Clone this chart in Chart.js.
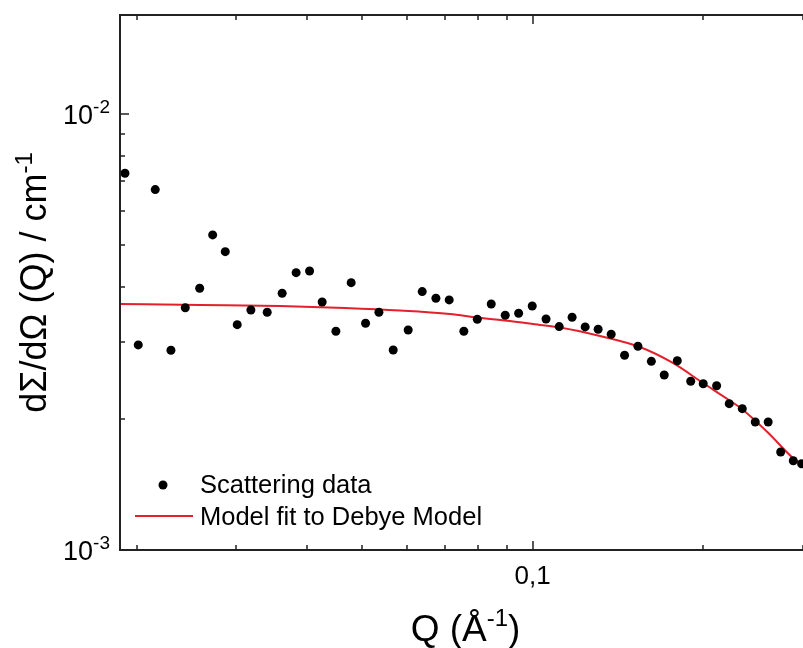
<!DOCTYPE html>
<html>
<head>
<meta charset="utf-8">
<script src="https://cdn.jsdelivr.net/npm/chart.js@4/dist/chart.umd.min.js"></script>
<style>
  html, body { margin: 0; padding: 0; background: #fff; overflow: hidden; }
  canvas { display: block; }
</style>
</head>
<body>
<canvas id="chart" width="803" height="648"></canvas>
<script>
// Scattering data (Q in 1/A, intensity in 1/cm)
const qValues = [
  0.01908, 0.02014, 0.02158, 0.02300, 0.02438, 0.02585, 0.02725, 0.02868, 0.03011, 0.03183,
  0.03401, 0.03614, 0.03825, 0.04040, 0.04252, 0.04496, 0.04784, 0.05072, 0.05355, 0.05675,
  0.06031, 0.06385, 0.06750, 0.07124, 0.07562, 0.07986, 0.08452, 0.08946, 0.09447, 0.09984,
  0.1056, 0.1114, 0.1174, 0.1238, 0.1305, 0.1376, 0.1453, 0.1534, 0.1620, 0.1707,
  0.1800, 0.1901, 0.2000, 0.2112, 0.2223, 0.2344, 0.2471, 0.2604, 0.2740, 0.2884, 0.2983
];
const intensity = [
  0.00731, 0.002953, 0.006706, 0.002871, 0.003594, 0.003983, 0.005280, 0.004833, 0.003287, 0.003552,
  0.003509, 0.003880, 0.004325, 0.004364, 0.003705, 0.003174, 0.004102, 0.003311, 0.003509, 0.002875,
  0.003196, 0.003913, 0.003779, 0.003745, 0.003174, 0.003381, 0.003666, 0.003454, 0.003491, 0.003627,
  0.003387, 0.003253, 0.003418, 0.003248, 0.003208, 0.003124, 0.002796, 0.002932, 0.002708, 0.002519,
  0.002717, 0.002437, 0.002406, 0.002381, 0.002166, 0.002109, 0.001966, 0.001966, 0.001678, 0.001602, 0.001577
];

// Debye model fit
const fitQ = [0.01869, 0.02588, 0.03581, 0.04664, 0.05832, 0.07145, 0.07976, 0.0912, 0.1030, 0.1117,
  0.1315, 0.1546, 0.1768, 0.1998, 0.2220, 0.2340, 0.2601, 0.2879, 0.2999];
const fitI = [0.003666, 0.003647, 0.003627, 0.003589, 0.003542, 0.003477, 0.003414, 0.003351, 0.003281, 0.003238,
  0.003096, 0.002921, 0.002685, 0.002415, 0.002208, 0.002106, 0.001860, 0.001626, 0.001562];

// Axis ticks
const xTicks = [0.02, 0.03, 0.04, 0.05, 0.06, 0.07, 0.08, 0.09, 0.1, 0.2, 0.3];
const xMajor = [0.1];
const xTickLabels = ['0,1'];
const yTicks = [0.001, 0.002, 0.003, 0.004, 0.005, 0.006, 0.007, 0.008, 0.009, 0.01];
const yMajor = [0.001, 0.01];
const yTickExp = ['-3', '-2'];

const seriesNames = ['Scattering data', 'Model fit to Debye Model'];

const FONT = '"Liberation Sans", Arial, sans-serif';
const AXIS = '#222';
const RED = '#e3202b';

// text with superscripts: parts = [[text, size, raise], ...]
function drawParts(ctx, parts, x, y, align) {
  let total = 0;
  parts.forEach(p => { ctx.font = p[1] + 'px ' + FONT; total += ctx.measureText(p[0]).width; });
  let cx = align === 'right' ? x - total : align === 'center' ? x - total / 2 : x;
  ctx.textAlign = 'left';
  ctx.textBaseline = 'alphabetic';
  parts.forEach(p => {
    ctx.font = p[1] + 'px ' + FONT;
    ctx.fillText(p[0], cx, y - p[2]);
    cx += ctx.measureText(p[0]).width;
  });
}

const framePlugin = {
  id: 'frame',
  afterDraw(chart) {
    const { ctx, chartArea: a, scales } = chart;
    const x = scales.x, y = scales.y;
    ctx.save();

    // frame (right side runs off the picture)
    ctx.strokeStyle = AXIS;
    ctx.lineWidth = 2;
    ctx.beginPath();
    ctx.moveTo(a.right + 2, a.top);
    ctx.lineTo(a.left, a.top);
    ctx.lineTo(a.left, a.bottom);
    ctx.lineTo(a.right + 2, a.bottom);
    ctx.stroke();

    // inward ticks
    ctx.lineWidth = 1.5;
    ctx.beginPath();
    xTicks.forEach(v => {
      const px = Math.round(x.getPixelForValue(v));
      const len = xMajor.includes(v) ? 9 : 5;
      ctx.moveTo(px, a.bottom); ctx.lineTo(px, a.bottom - len);
      ctx.moveTo(px, a.top); ctx.lineTo(px, a.top + len);
    });
    yTicks.forEach(v => {
      const py = Math.round(y.getPixelForValue(v));
      const len = yMajor.includes(v) ? 9 : 5;
      ctx.moveTo(a.left, py); ctx.lineTo(a.left + len, py);
    });
    ctx.stroke();

    ctx.fillStyle = '#000';
    // x tick labels
    xMajor.forEach((v, i) => {
      ctx.font = '26px ' + FONT;
      ctx.textAlign = 'center';
      ctx.textBaseline = 'alphabetic';
      ctx.fillText(xTickLabels[i], x.getPixelForValue(v), a.bottom + 34);
    });
    // y tick labels
    yMajor.forEach((v, i) => {
      const py = y.getPixelForValue(v);
      drawParts(ctx, [['10', 27, 0], [yTickExp[i], 19, 11]], a.left - 10, py + 10, 'right');
    });

    // axis titles
    drawParts(ctx, [['Q (Å', 37, 0], ['-1', 24, 15], [')', 37, 0]], (a.left + a.right) / 2 + 4, 641, 'center');
    ctx.save();
    ctx.translate(46, (a.top + a.bottom) / 2);
    ctx.rotate(-Math.PI / 2);
    drawParts(ctx, [['dΣ/dΩ (Q) / cm', 36, 0], ['-1', 24, 14]], 0, 0, 'center');
    ctx.restore();

    // legend
    ctx.beginPath();
    ctx.arc(a.left + 43, a.bottom - 65, 4.5, 0, Math.PI * 2);
    ctx.fillStyle = '#000';
    ctx.fill();
    ctx.strokeStyle = RED;
    ctx.lineWidth = 2;
    ctx.beginPath();
    ctx.moveTo(a.left + 15, a.bottom - 34);
    ctx.lineTo(a.left + 73, a.bottom - 34);
    ctx.stroke();
    ctx.fillStyle = '#000';
    ctx.font = '25.5px ' + FONT;
    ctx.textAlign = 'left';
    ctx.fillText(seriesNames[0], a.left + 80, a.bottom - 57);
    ctx.fillText(seriesNames[1], a.left + 80, a.bottom - 25);

    ctx.restore();
  }
};

const ctx = document.getElementById('chart').getContext('2d');
new Chart(ctx, {
  type: 'scatter',
  data: {
    datasets: [
      {
        label: seriesNames[0],
        data: qValues.map((q, i) => ({ x: q, y: intensity[i] })),
        pointRadius: 4.5,
        pointBackgroundColor: '#000',
        pointBorderWidth: 0,
        showLine: false
      },
      {
        label: seriesNames[1],
        data: fitQ.map((q, i) => ({ x: q, y: fitI[i] })),
        showLine: true,
        borderColor: RED,
        borderWidth: 2,
        pointRadius: 0,
        tension: 0.4,
        cubicInterpolationMode: 'monotone'
      }
    ]
  },
  options: {
    responsive: false,
    animation: false,
    devicePixelRatio: 1,
    layout: { autoPadding: false, padding: { top: 15, right: 0, left: 0, bottom: 0 } },
    plugins: { legend: { display: false }, tooltip: { enabled: false } },
    scales: {
      x: {
        type: 'logarithmic',
        min: 0.0187,
        max: 0.3,
        grid: { display: false },
        border: { display: false },
        ticks: { display: false },
        afterFit: s => { s.height = 98; }
      },
      y: {
        type: 'logarithmic',
        min: 0.001,
        max: 0.01686,
        grid: { display: false },
        border: { display: false },
        ticks: { display: false },
        afterFit: s => { s.width = 120; }
      }
    }
  },
  plugins: [framePlugin]
});
</script>
</body>
</html>
